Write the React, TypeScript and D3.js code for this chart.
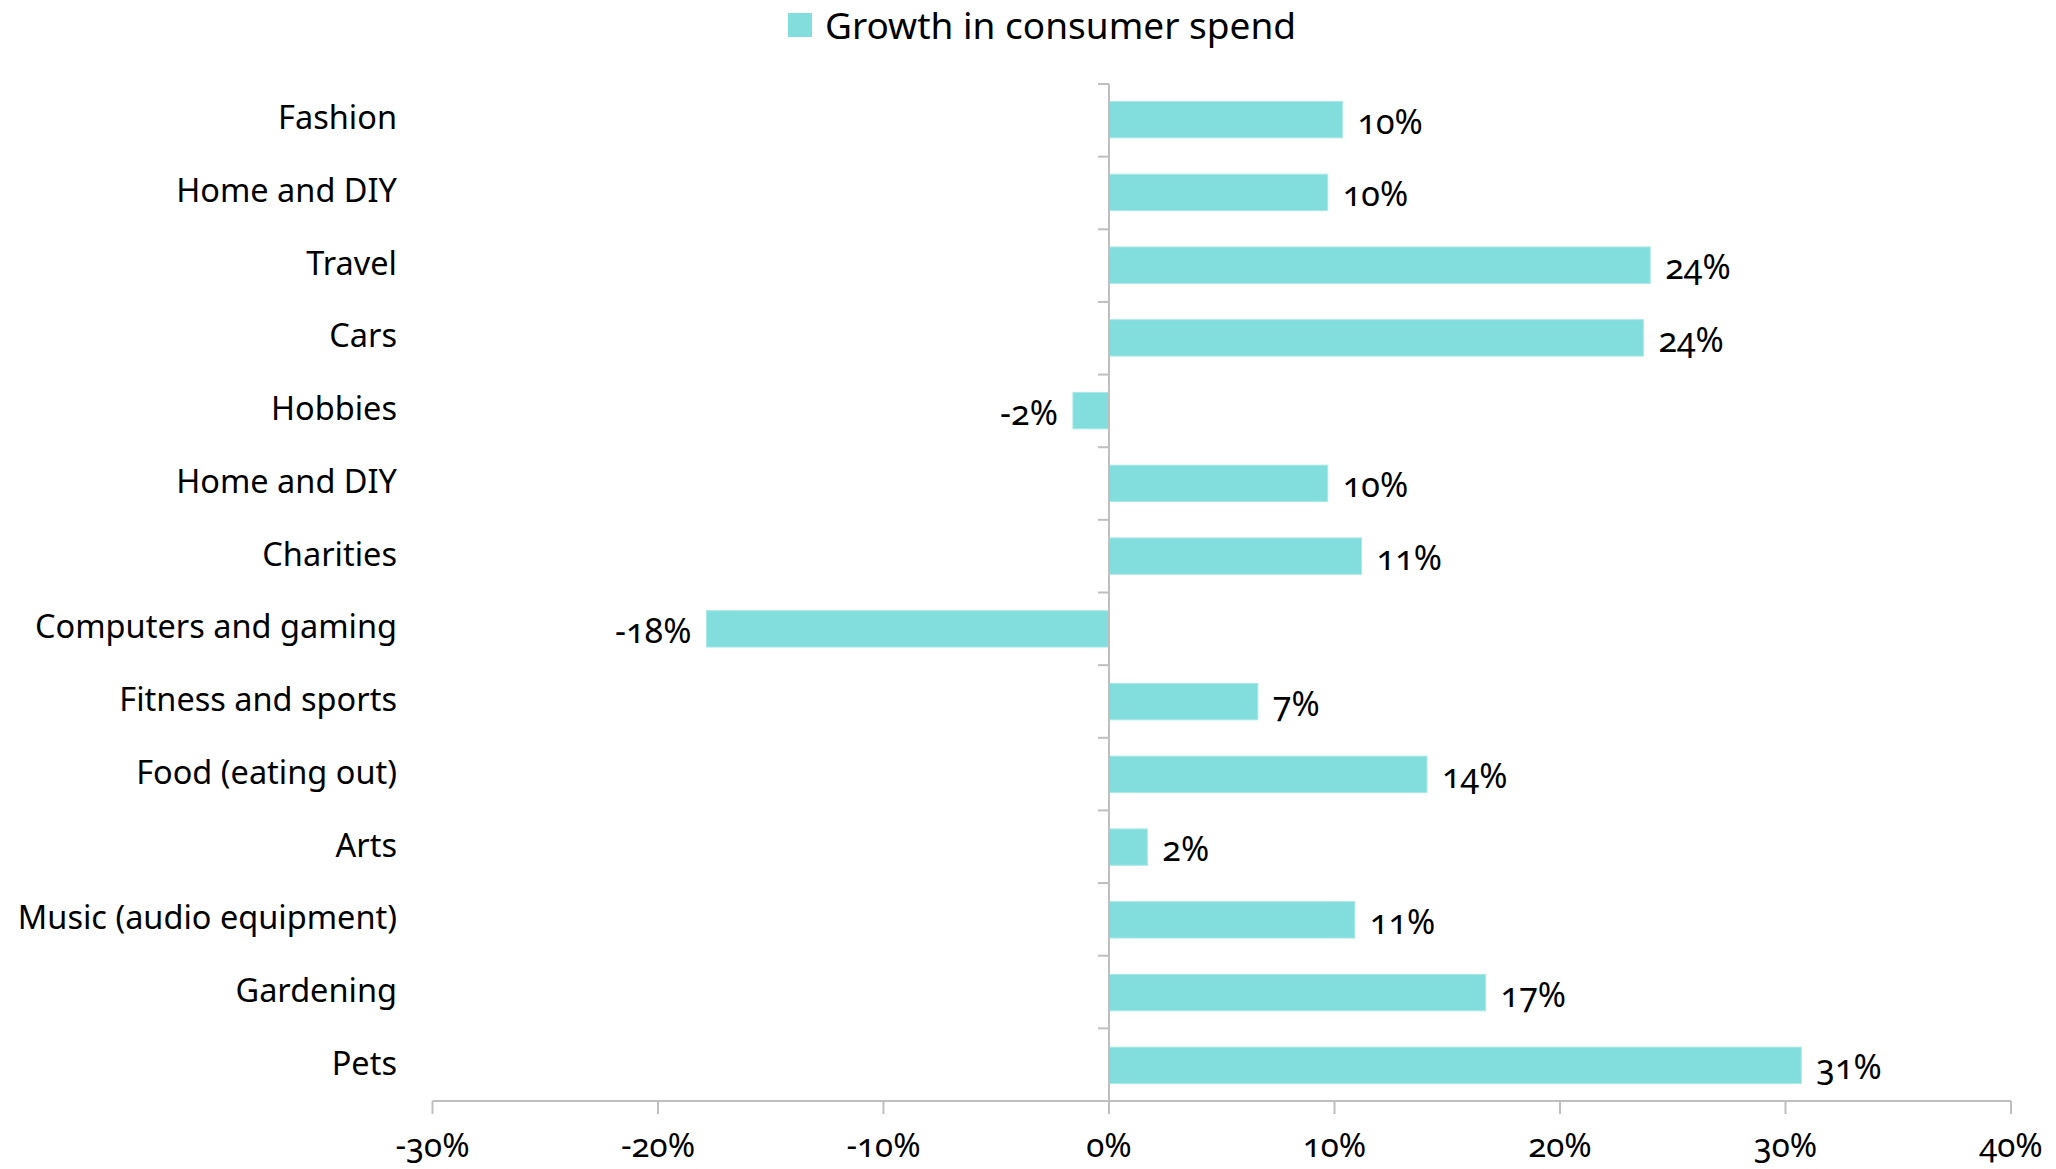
import React from "react";
import * as d3 from "d3";

const categories = [
  "Fashion",
  "Home and DIY",
  "Travel",
  "Cars",
  "Hobbies",
  "Home and DIY ",
  "Charities",
  "Computers and gaming",
  "Fitness and sports",
  "Food (eating out)",
  "Arts",
  "Music (audio equipment)",
  "Gardening",
  "Pets",
];
const values = [10.35, 9.7, 24.0, 23.7, -1.6, 9.7, 11.2, -17.85, 6.6, 14.1, 1.7, 10.9, 16.7, 30.7];
const xTicks = [-30, -20, -10, 0, 10, 20, 30, 40];
const seriesName = "Growth in consumer spend";

const W = 2056;
const H = 1169;
const FONT = "'Noto Sans', 'Open Sans', sans-serif";
const BAR = "#82DEDC";
const AXIS = "#BFBFBF";

export default function App() {
  const x = d3.scaleLinear().domain([-30, 40]).range([432.5, 2011]);
  const y = d3
    .scaleBand<string>()
    .domain(categories)
    .range([84, 1101])
    .paddingInner(0.5)
    .paddingOuter(0.24);
  const step = (1101 - 84) / categories.length;
  const x0 = x(0);
  const axisY = 1101;
  const fmt = (v: number) => `${Math.round(v)}%`;

  return (
    <svg
      width={W}
      height={H}
      style={{ position: "absolute", left: 0, top: 0, background: "#fff" }}
      fontFamily={FONT}
    >
      {/* legend */}
      <rect x={788} y={13} width={24} height={24} fill={BAR} />
      <text x={825} y={24} dominantBaseline="central" fontSize={37} fill="#000">
        {seriesName}
      </text>

      {/* bars */}
      {categories.map((c, i) => {
        const v = values[i];
        const bx = Math.min(x(v), x0);
        const bw = Math.abs(x(v) - x0);
        const by = y(c)!;
        const bh = y.bandwidth();
        const cy = by + bh / 2;
        return (
          <g key={c + i}>
            <rect x={bx} y={by} width={bw} height={bh} fill={BAR} stroke="#A8E9E8" strokeWidth={1} />
            <text
              x={v >= 0 ? x(v) + 15 : x(v) - 15}
              y={cy + 1}
              textAnchor={v >= 0 ? "start" : "end"}
              dominantBaseline="central"
              fontSize={34}
              fill="#000"
              style={{ fontVariantNumeric: "oldstyle-nums" }}
            >
              {fmt(v)}
            </text>
            <text
              x={397}
              y={cy - 3}
              textAnchor="end"
              dominantBaseline="central"
              fontSize={32.5}
              fill="#000"
            >
              {c.trim()}
            </text>
          </g>
        );
      })}

      {/* vertical axis at 0 */}
      <line x1={x0} x2={x0} y1={84} y2={axisY} stroke={AXIS} strokeWidth={2} />
      {d3.range(categories.length + 1).map((k) => (
        <line
          key={"yt" + k}
          x1={x0 - 11}
          x2={x0}
          y1={84 + k * step}
          y2={84 + k * step}
          stroke={AXIS}
          strokeWidth={2}
        />
      ))}

      {/* bottom axis */}
      <line x1={x(-30)} x2={x(40)} y1={axisY} y2={axisY} stroke={AXIS} strokeWidth={2} />
      {xTicks.map((t) => (
        <g key={"xt" + t}>
          <line x1={x(t)} x2={x(t)} y1={axisY} y2={axisY + 13} stroke={AXIS} strokeWidth={2} />
          <text
            x={x(t)}
            y={1144}
            textAnchor="middle"
            dominantBaseline="central"
            fontSize={33}
            fill="#000"
            style={{ fontVariantNumeric: "oldstyle-nums" }}
          >
            {`${t}%`}
          </text>
        </g>
      ))}
    </svg>
  );
}
